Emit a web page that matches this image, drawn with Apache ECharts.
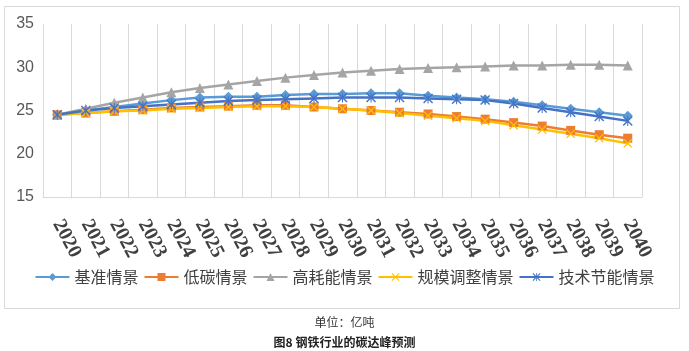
<!DOCTYPE html>
<html>
<head>
<meta charset="utf-8">
<script src="https://cdn.jsdelivr.net/npm/echarts@6/dist/echarts.min.js"></script>
<style>
  html, body { margin: 0; padding: 0; background: #fff; }
  #chart { width: 689px; height: 351px; }
</style>
</head>
<body>
<div id="chart"></div>
<script>
// 钢铁行业碳达峰预测数据
var years = ['2020','2021','2022','2023','2024','2025','2026','2027','2028','2029','2030',
             '2031','2032','2033','2034','2035','2036','2037','2038','2039','2040'];
var baseLine  = [24.5, 25.0, 25.4, 25.8, 26.2, 26.5, 26.6, 26.6, 26.8, 26.9, 26.9, 27.0, 27.0, 26.7, 26.5, 26.3, 26.0, 25.6, 25.2, 24.8, 24.4];
var lowCarbon = [24.5, 24.7, 24.9, 25.1, 25.3, 25.4, 25.5, 25.6, 25.6, 25.4, 25.2, 25.0, 24.8, 24.6, 24.3, 24.0, 23.6, 23.2, 22.7, 22.2, 21.8];
var highEnergy = [24.5, 25.2, 25.9, 26.5, 27.1, 27.6, 28.0, 28.4, 28.8, 29.1, 29.4, 29.6, 29.8, 29.9, 30.0, 30.1, 30.2, 30.2, 30.3, 30.3, 30.2];
var scaleAdj  = [24.5, 24.7, 24.9, 25.0, 25.2, 25.3, 25.4, 25.5, 25.5, 25.4, 25.2, 25.0, 24.7, 24.4, 24.1, 23.8, 23.3, 22.8, 22.3, 21.8, 21.2];
var techSave  = [24.5, 25.0, 25.3, 25.5, 25.7, 25.9, 26.1, 26.2, 26.3, 26.4, 26.5, 26.5, 26.5, 26.4, 26.3, 26.2, 25.8, 25.3, 24.8, 24.3, 23.8];
var seriesNames = ['基准情景', '低碳情景', '高耗能情景', '规模调整情景', '技术节能情景'];
var yTicks = [15, 20, 25, 30, 35];

var crossPath = 'path://M0,1 L1,0 L5,4 L9,0 L10,1 L6,5 L10,9 L9,10 L5,6 L1,10 L0,9 L4,5 Z';
var starPath = 'path://M4.5,0 h1 v10 h-1 z M0,1 L1,0 L5,4 L9,0 L10,1 L6,5 L10,9 L9,10 L5,6 L1,10 L0,9 L4,5 Z';

function makeLine(name, data, color, symbol, size) {
  return {
    name: name,
    type: 'line',
    data: data,
    symbol: symbol,
    symbolSize: size,
    color: color,
    lineStyle: { width: 2.5, color: color },
    itemStyle: { color: color },
    emphasis: { disabled: true }
  };
}

var chart = echarts.init(document.getElementById('chart'));
var option = {
  backgroundColor: '#fff',
  animation: false,
  graphic: [{
    type: 'rect',
    shape: { x: 4.5, y: 6.5, width: 675, height: 302 },
    style: { fill: 'none', stroke: '#d9d9d9', lineWidth: 1 },
    silent: true
  }],
  title: [
    {
      text: '单位：亿吨',
      left: 'center',
      top: 311,
      textStyle: { fontSize: 12, fontWeight: 'normal', color: '#333', fontFamily: 'Noto Sans CJK SC' }
    },
    {
      text: '图8 钢铁行业的碳达峰预测',
      left: 'center',
      top: 331,
      textStyle: { fontSize: 12, fontWeight: 'bold', color: '#222', fontFamily: 'Noto Sans CJK SC' }
    }
  ],
  legend: {
    data: seriesNames,
    left: 'center',
    top: 264,
    itemWidth: 34,
    itemHeight: 10,
    itemGap: 5,
    textStyle: { fontSize: 16, color: '#404040', fontFamily: 'Noto Sans CJK SC' }
  },
  grid: { left: 43, right: 47, top: 24, bottom: 154 },
  xAxis: {
    type: 'category',
    data: years,
    boundaryGap: true,
    axisLine: { show: true, lineStyle: { color: '#d9d9d9' } },
    axisTick: { show: false },
    splitLine: { show: true, interval: 0, lineStyle: { color: '#d9d9d9', width: 1 } },
    axisLabel: {
      interval: 0,
      rotate: -62,
      margin: 24,
      fontSize: 20,
      fontWeight: 'bold',
      color: '#404040',
      fontFamily: 'Liberation Serif'
    }
  },
  yAxis: {
    type: 'value',
    min: yTicks[0],
    max: yTicks[yTicks.length - 1],
    interval: 5,
    axisLine: { show: false },
    axisTick: { show: false },
    splitLine: { show: false },
    axisLabel: { fontSize: 16, color: '#595959', margin: 9, fontFamily: 'Liberation Sans' }
  },
  series: [
    makeLine(seriesNames[0], baseLine, '#5B9BD5', 'diamond', 10),
    makeLine(seriesNames[1], lowCarbon, '#ED7D31', 'rect', 9),
    makeLine(seriesNames[2], highEnergy, '#A5A5A5', 'triangle', 10),
    makeLine(seriesNames[3], scaleAdj, '#FFC000', crossPath, 9),
    makeLine(seriesNames[4], techSave, '#4472C4', starPath, 10)
  ]
};
chart.setOption(option);
</script>
</body>
</html>
